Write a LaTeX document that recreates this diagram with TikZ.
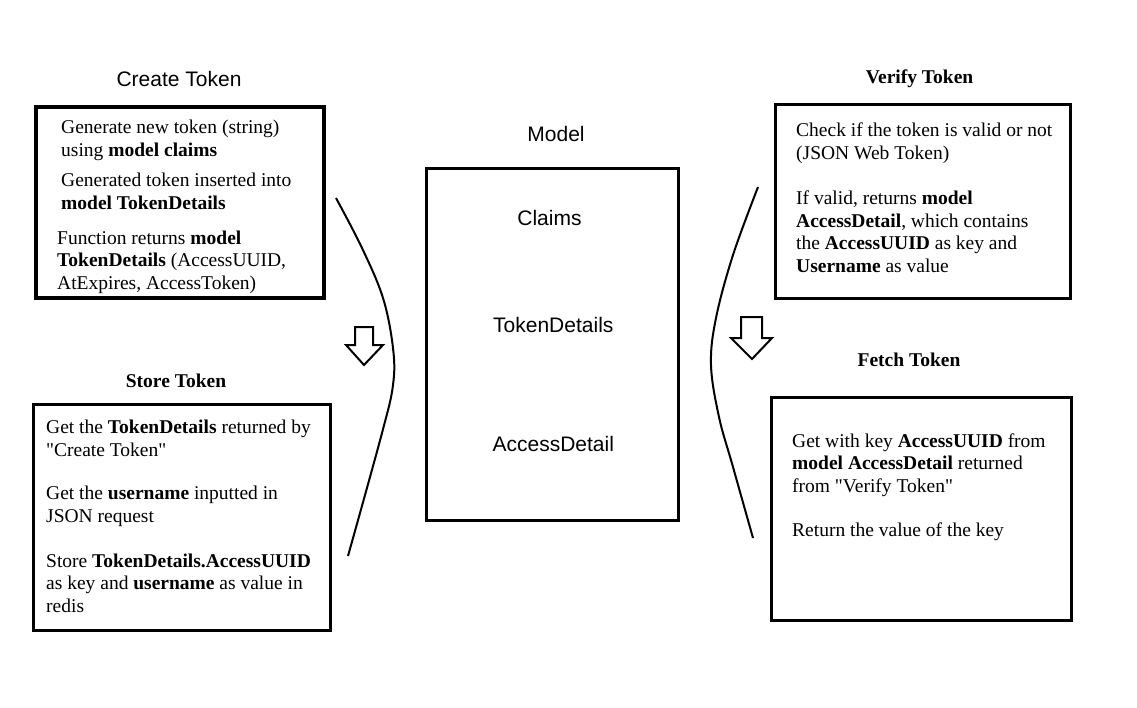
\documentclass[tikz,border=0pt]{standalone}
\usepackage{fontspec}
\setmainfont{Liberation Serif}
\newfontfamily\gothic{Liberation Sans}
\begin{document}
\begin{tikzpicture}[x=1pt,y=-1pt]
\tikzset{
  txt/.style={anchor=base west, align=left, inner sep=0pt, font=\fontsize{19.5}{22.5}\selectfont},
  ttl/.style={anchor=base, inner sep=0pt, font=\fontsize{19.5}{22.5}\selectfont\bfseries},
  sans/.style={anchor=base, inner sep=0pt, font=\gothic\fontsize{21}{24}\selectfont},
  box/.style={draw, rectangle, line width=3pt, inner sep=0pt},
  bracket/.style={line width=2pt},
  hollow/.style={draw, line width=2pt, line join=miter, fill=white}
}
\useasboundingbox (0,0) rectangle (1137,707);

% boxes
\node[box, line width=4pt, minimum width=288pt, minimum height=191pt] (create) at (180,202.5) {};
\node[box, minimum width=297pt, minimum height=226pt] (store) at (182,517.5) {};
\node[box, minimum width=252pt, minimum height=352pt] (model) at (552.5,344.5) {};
\node[box, minimum width=295pt, minimum height=194pt] (verify) at (923,201.5) {};
\node[box, minimum width=300pt, minimum height=223pt] (fetch) at (921.5,509) {};

% titles
\node[sans] (ctitle) at (179,86) {Create Token};
\node[ttl] (stitle) at (176,387) {Store Token};
\node[ttl] (vtitle) at (919.5,83) {Verify Token};
\node[ttl] (ftitle) at (909,366) {Fetch Token};
\node[sans] (mtitle) at (556,141) {Model};

% model contents
\node[sans] (claims) at (549.5,225) {Claims};
\node[sans] (tokdet) at (553.3,332) {TokenDetails};
\node[sans] (accdet) at (553.3,451) {AccessDetail};

% create token text (positions = baseline of last line)
\node[txt] (c1) at (61,156) {Generate new token (string)\\using \textbf{model claims}};
\node[txt] (c2) at (61,209) {Generated token inserted into\\\textbf{model TokenDetails}};
\node[txt] (c3) at (57,289) {Function returns \textbf{model}\\\textbf{TokenDetails} (AccessUUID,\\AtExpires, AccessToken)};

% store token text
\node[txt] (s1) at (46,456) {Get the \textbf{TokenDetails} returned by\\\textquotedbl Create Token\textquotedbl};
\node[txt] (s2) at (46,522) {Get the \textbf{username} inputted in\\JSON request};
\node[txt] (s3) at (46,612) {Store \textbf{TokenDetails.AccessUUID}\\as key and \textbf{username} as value in\\redis};

% verify token text
\node[txt] (v1) at (796,159) {Check if the token is valid or not\\(JSON Web Token)};
\node[txt] (v2) at (796,272) {If valid, returns \textbf{model}\\\textbf{AccessDetail}, which contains\\the \textbf{AccessUUID} as key and\\\textbf{Username} as value};

% fetch token text
\node[txt] (f1) at (792,492) {Get with key \textbf{AccessUUID} from\\\textbf{model AccessDetail} returned\\from \textquotedbl Verify Token\textquotedbl};
\node[txt] (f2) at (792,536) {Return the value of the key};

% brackets
\draw[bracket] plot[smooth, tension=0.6] coordinates {(336,198) (362,248) (383,298) (393,348) (393,385) (382,433) (348,556)};
\draw[bracket] plot[smooth, tension=0.6] coordinates {(758,187) (733,255) (716,318) (711,365) (719,417) (733,467) (753,538)};

% hollow arrows
\draw[hollow] (355,327) -- (373,327) -- (373,345) -- (383,345) -- (364,365) -- (346,345) -- (355,345) -- cycle;
\draw[hollow] (741,317) -- (762,317) -- (762,338) -- (772,338) -- (752,359) -- (731,338) -- (741,338) -- cycle;
\end{tikzpicture}
\end{document}
